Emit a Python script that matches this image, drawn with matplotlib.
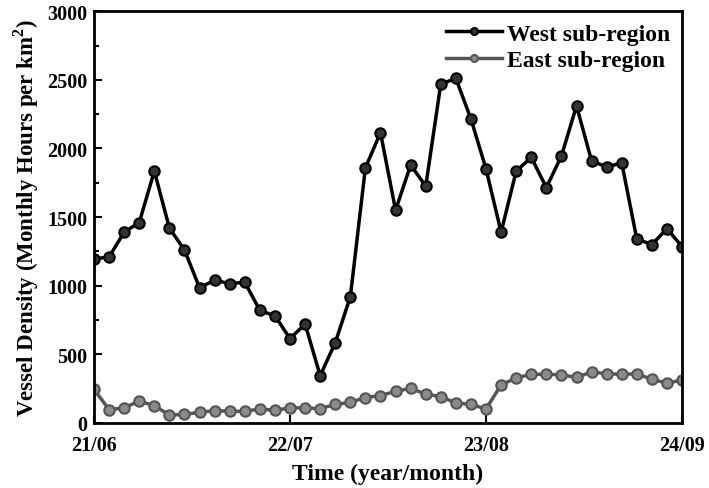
import matplotlib.pyplot as plt
import numpy as np

plt.rcParams['font.family'] = ['Liberation Serif', 'DejaVu Serif']
plt.rcParams['font.weight'] = 'bold'
plt.rcParams['mathtext.fontset'] = 'custom'
plt.rcParams['mathtext.bf'] = 'Liberation Serif:bold'

# monthly values, 2021/06 .. 2024/09
west = [1195, 1210, 1390, 1460, 1835, 1420, 1260, 985, 1040, 1015,
        1025, 820, 780, 615, 720, 345, 585, 920, 1860, 2115,
        1550, 1880, 1725, 2470, 2510, 2215, 1850, 1390, 1835, 1935,
        1715, 1945, 2310, 1910, 1865, 1895, 1340, 1300, 1415, 1285]
east = [245, 97, 110, 160, 125, 58, 62, 78, 90, 85,
        85, 102, 92, 110, 110, 104, 135, 150, 185, 200,
        230, 252, 210, 192, 145, 135, 102, 278, 328, 355,
        355, 350, 332, 372, 358, 355, 358, 318, 290, 313]
tick_labels = ['21/06', '22/07', '23/08', '24/09']

x = np.arange(len(west))

fig = plt.figure(figsize=(7.09, 4.89), dpi=100)
ax = fig.add_axes([0.1326, 0.133, 0.8294, 0.842])

ax.plot(x, west, color='black', lw=2.5, marker='o', ms=7.5,
        mfc='#333333', mec='black', mew=1.5, label='West sub-region')
ax.plot(x, east, color='#555555', lw=2.5, marker='o', ms=7.5,
        mfc='#8a8a8a', mec='#555555', mew=1.5, label='East sub-region')

ax.set_xlim(0, 39)
ax.set_ylim(0, 3000)
ax.set_xticks([0, 13, 26, 39])
ax.set_xticklabels(tick_labels)
ax.set_yticks(np.arange(0, 3001, 500))
ax.set_yticks(np.arange(250, 3000, 500), minor=True)
ax.tick_params(direction='in', which='major', length=6, width=1.5, labelsize=14.5)
ax.tick_params(axis='x', pad=9)
ax.tick_params(axis='y', pad=5)
ax.tick_params(direction='in', which='minor', length=3.5, width=1.5)
for s in ax.spines.values():
    s.set_linewidth(2)

ax.set_xlabel('Time (year/month)', fontsize=17, fontweight='bold', labelpad=5)
ax.set_ylabel(r'Vessel Density (Monthly Hours per km$^\mathbf{2}$)', fontsize=16.5,
              fontweight='bold', labelpad=4)

leg = ax.legend(loc='upper right', frameon=False, fontsize=17, handlelength=2.4,
                borderaxespad=0.1, labelspacing=0.2, handletextpad=0.2)
for ln in leg.get_lines():
    ln.set_markersize(5)

fig.savefig('out.png', dpi=100)
